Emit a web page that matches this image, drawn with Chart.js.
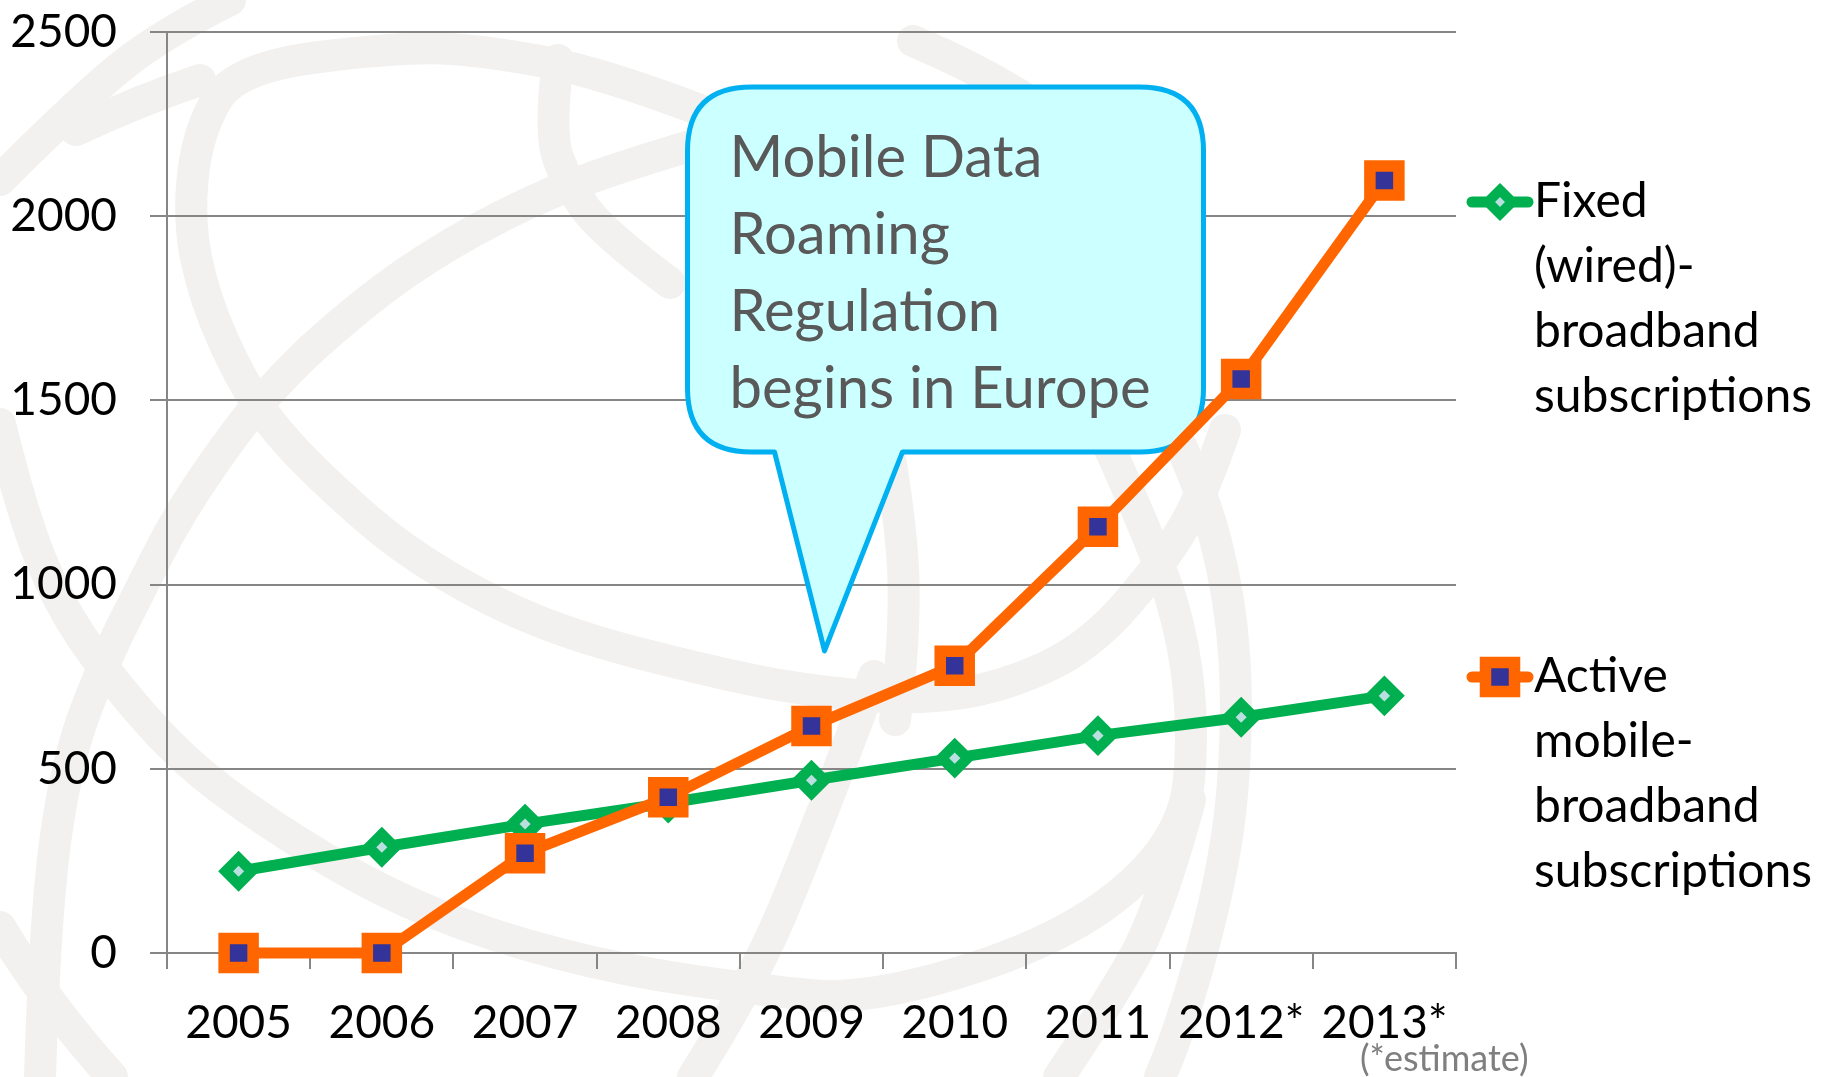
<!DOCTYPE html>
<html><head><meta charset="utf-8">
<script src="https://cdn.jsdelivr.net/npm/chart.js@4/dist/chart.umd.min.js"></script>
<style>html,body{margin:0;padding:0;background:#fff;overflow:hidden}#wrap{width:1826px;height:1077px;position:relative}</style>
</head><body><div id="wrap"><canvas id="c" width="1826" height="1077"></canvas></div>
<script>
const years = ['2005','2006','2007','2008','2009','2010','2011','2012*','2013*'];
const fixedBroadband = [222, 287, 350, 407, 469, 529, 590, 640, 698];
const mobileBroadband = [0, 0, 271, 423, 616, 780, 1157, 1558, 2097];
const yTicks = [0, 500, 1000, 1500, 2000, 2500];
const legendFixed = ['Fixed', '(wired)-', 'broadband', 'subscriptions'];
const legendMobile = ['Active', 'mobile-', 'broadband', 'subscriptions'];
const calloutLines = ['Mobile Data', 'Roaming', 'Regulation', 'begins in Europe'];
const calloutYear = 4;      // points at 2009
const calloutValue = 820;
const footnote = '(*estimate)';

const FONT = 'Lato, "Open Sans", sans-serif';
const GREEN = '#00b050', GREEN_FILL = '#b9dfe0', ORANGE = '#ff6600', NAVY = '#333399', GRID = '#868686';

// faint background watermark bands (decorative)
const bands = [
  [[0,180],[80,100],[160,35],[230,0]],
  [[76,130],[140,100],[200,80]],
  [[700,143],[598,173],[500,215],[402,273],[320,340],[277,383],[241,424],[179,513],[134,602],[107,656],[67,758],[45,913],[40,1077]],
  [[700,110],[600,72],[480,50],[402,47],[237,67],[198,130],[188,220],[205,300],[241,380],[277,433],[335,491],[402,549],[491,602],[580,638],[700,669],[800,690],[913,700],[1000,688],[1090,647],[1166,558],[1204,491],[1225,430]],
  [[558,60],[549,133],[567,183],[603,233],[670,283]],
  [[0,424],[22,513],[58,602],[103,669],[179,758],[268,824],[379,891],[491,936],[625,971],[760,990],[860,1000],[1013,958],[1120,900],[1185,824],[1193,736],[1185,647],[1159,558],[1109,447]],
  [[0,927],[45,1002],[112,1077]],
  [[874,676],[810,847],[751,985],[693,1077]],
  [[1190,800],[1159,913],[1109,1002],[1059,1077]],
  [[1150,380],[1200,480],[1231,600],[1238,720],[1227,858],[1181,1030],[1160,1077]],
  [[880,400],[902,520],[905,640],[895,720]],
  [[913,41],[1028,89],[1104,158]]
];

function smoothPath(ctx, pts) {
  ctx.beginPath();
  ctx.moveTo(pts[0][0], pts[0][1]);
  if (pts.length === 2) { ctx.lineTo(pts[1][0], pts[1][1]); return; }
  for (let i = 1; i < pts.length - 1; i++) {
    const mx = (pts[i][0] + pts[i+1][0]) / 2, my = (pts[i][1] + pts[i+1][1]) / 2;
    if (i === pts.length - 2) ctx.quadraticCurveTo(pts[i][0], pts[i][1], pts[i+1][0], pts[i+1][1]);
    else ctx.quadraticCurveTo(pts[i][0], pts[i][1], mx, my);
  }
}

const watermark = {
  id: 'watermark',
  beforeDraw(chart) {
    const ctx = chart.ctx;
    ctx.save();
    ctx.fillStyle = '#fff';
    ctx.fillRect(0, 0, chart.width, chart.height);
    ctx.strokeStyle = '#f2f1ef';
    ctx.lineWidth = 32;
    ctx.lineCap = 'round';
    ctx.lineJoin = 'round';
    bands.forEach(b => { smoothPath(ctx, b); ctx.stroke(); });
    ctx.restore();
  }
};

function drawDiamond(ctx, x, y, r, bw) {
  ctx.beginPath();
  ctx.moveTo(x, y - r); ctx.lineTo(x + r, y); ctx.lineTo(x, y + r); ctx.lineTo(x - r, y); ctx.closePath();
  ctx.fillStyle = GREEN_FILL; ctx.fill();
  ctx.lineWidth = bw; ctx.strokeStyle = GREEN; ctx.stroke();
}
function drawSquare(ctx, x, y, s, bw) {
  ctx.beginPath();
  ctx.rect(x - s/2, y - s/2, s, s);
  ctx.fillStyle = NAVY; ctx.fill();
  ctx.lineWidth = bw; ctx.strokeStyle = ORANGE; ctx.stroke();
}

const callout = {
  id: 'callout',
  beforeDatasetsDraw(chart) {
    const ctx = chart.ctx;
    const xs = chart.scales.x, ys = chart.scales.y;
    const tx = xs.getPixelForValue(calloutYear) + 13, ty = ys.getPixelForValue(calloutValue);
    const L = tx - 137, R = tx + 379, T = ty - 564, B = ty - 199, rad = 64;
    const b1 = tx - 50, b2 = tx + 78;
    ctx.save();
    ctx.beginPath();
    ctx.moveTo(L + rad, T);
    ctx.lineTo(R - rad, T);
    ctx.quadraticCurveTo(R, T, R, T + rad);
    ctx.lineTo(R, B - rad);
    ctx.quadraticCurveTo(R, B, R - rad, B);
    ctx.lineTo(b2, B);
    ctx.lineTo(tx, ty);
    ctx.lineTo(b1, B);
    ctx.lineTo(L + rad, B);
    ctx.quadraticCurveTo(L, B, L, B - rad);
    ctx.lineTo(L, T + rad);
    ctx.quadraticCurveTo(L, T, L + rad, T);
    ctx.closePath();
    ctx.fillStyle = '#ccffff';
    ctx.fill();
    ctx.lineWidth = 5;
    ctx.lineJoin = 'round';
    ctx.strokeStyle = '#00b0f0';
    ctx.stroke();
    ctx.fillStyle = '#595959';
    ctx.font = '58px ' + FONT;
    ctx.textBaseline = 'alphabetic';
    ctx.textAlign = 'left';
    calloutLines.forEach((s, i) => ctx.fillText(s, L + 42, T + 90 + i * 77));
    ctx.restore();
  }
};

const legendAndNote = {
  id: 'legendAndNote',
  afterDraw(chart) {
    const ctx = chart.ctx;
    const area = chart.chartArea;
    const mx = area.right + 44;
    ctx.save();
    ctx.lineCap = 'round';
    ctx.strokeStyle = GREEN; ctx.lineWidth = 11;
    ctx.beginPath(); ctx.moveTo(mx - 28, 202); ctx.lineTo(mx + 28, 202); ctx.stroke();
    drawDiamond(ctx, mx, 202, 12, 10);
    ctx.strokeStyle = ORANGE; ctx.lineWidth = 11;
    ctx.beginPath(); ctx.moveTo(mx - 28, 677); ctx.lineTo(mx + 28, 677); ctx.stroke();
    drawSquare(ctx, mx, 677, 29, 11.5);
    ctx.fillStyle = '#000';
    ctx.font = '48px ' + FONT;
    ctx.textAlign = 'left'; ctx.textBaseline = 'alphabetic';
    legendFixed.forEach((s, i) => ctx.fillText(s, mx + 34, 217 + i * 65));
    legendMobile.forEach((s, i) => ctx.fillText(s, mx + 34, 692 + i * 65));
    ctx.fillStyle = '#7f7f7f';
    ctx.font = '36px ' + FONT;
    ctx.fillText(footnote, 1360, 1071);
    ctx.restore();
  }
};

new Chart(document.getElementById('c'), {
  type: 'line',
  data: {
    labels: years,
    datasets: [
      {
        label: 'Fixed (wired)-broadband subscriptions',
        data: fixedBroadband,
        borderColor: GREEN, backgroundColor: GREEN_FILL, borderWidth: 11,
        borderJoinStyle: 'round', borderCapStyle: 'round',
        pointStyle: 'rectRot', pointRadius: 13, pointBorderWidth: 10.5,
        pointBorderColor: GREEN, pointBackgroundColor: GREEN_FILL,
        tension: 0, order: 2, clip: false
      },
      {
        label: 'Active mobile-broadband subscriptions',
        data: mobileBroadband,
        borderColor: ORANGE, backgroundColor: NAVY, borderWidth: 11,
        borderJoinStyle: 'round', borderCapStyle: 'round',
        pointStyle: 'rect', pointRadius: 20.5, pointBorderWidth: 11.5,
        pointBorderColor: ORANGE, pointBackgroundColor: NAVY,
        tension: 0, order: 1, clip: false
      }
    ]
  },
  options: {
    responsive: false, animation: false, devicePixelRatio: 1,
    layout: { padding: { left: 0, right: 370, top: 29, bottom: 0 } },
    plugins: { legend: { display: false }, tooltip: { enabled: false } },
    scales: {
      x: {
        type: 'category', offset: true,
        grid: { display: true, drawOnChartArea: false, drawTicks: true, tickLength: 16, offset: true, color: GRID, lineWidth: 2 },
        border: { display: true, color: GRID, width: 2 },
        ticks: { font: { family: FONT, size: 46 }, color: '#000', padding: 27, maxRotation: 0, autoSkip: false },
        afterFit: s => { s.height = 124; s.paddingLeft = 0; s.paddingRight = 0; }
      },
      y: {
        min: 0, max: 2500,
        afterBuildTicks: s => { s.ticks = yTicks.map(v => ({ value: v })); },
        grid: { color: GRID, lineWidth: 2, tickLength: 17, drawTicks: true },
        border: { display: true, color: GRID, width: 2 },
        ticks: { font: { family: FONT, size: 46 }, color: '#000', padding: 33, callback: v => String(v) },
        afterFit: s => { s.width = 167; s.paddingTop = 0; s.paddingBottom = 0; }
      }
    }
  },
  plugins: [watermark, callout, legendAndNote]
});
</script>
</body></html>
